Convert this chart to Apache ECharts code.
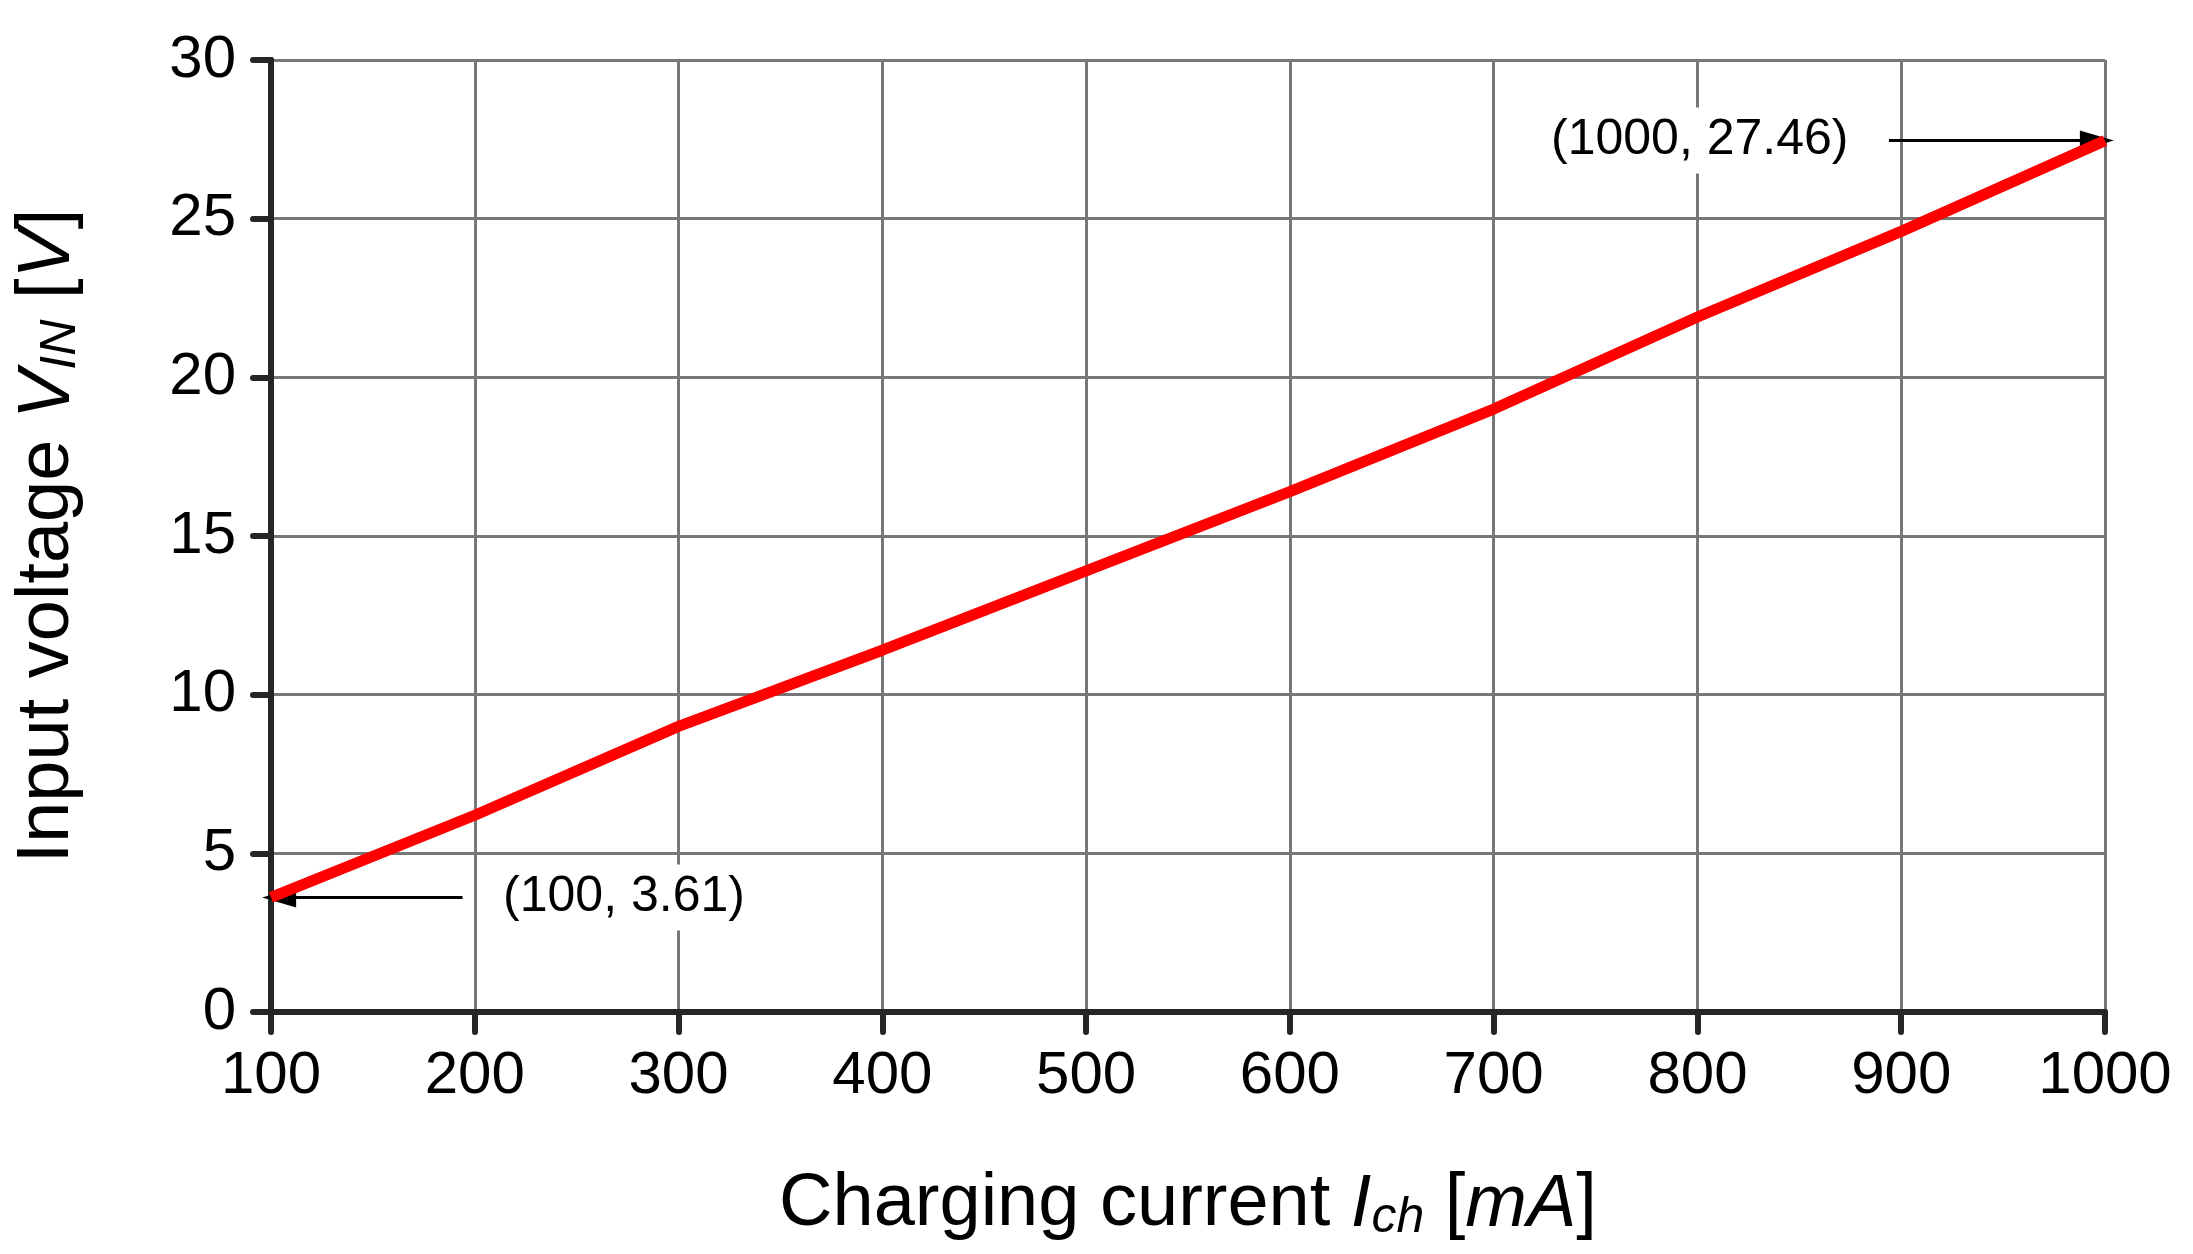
<!DOCTYPE html>
<html>
<head>
<meta charset="utf-8">
<script src="https://cdn.jsdelivr.net/npm/echarts@6/dist/echarts.min.js"></script>
<style>html,body{margin:0;background:#fff}#chart{width:2193px;height:1254px}</style>
</head>
<body>
<div id="chart"></div>
<script>
const currents = [100, 200, 300, 400, 500, 600, 700, 800, 900, 1000];
const voltages = [3.61, 6.2, 9.0, 11.4, 13.9, 16.4, 19.0, 21.9, 24.6, 27.46];

const chart = echarts.init(document.getElementById("chart"));
const font = "Liberation Sans, Arial, sans-serif";
const rich = {
  n: { fontSize: 74, fontFamily: font, color: "#000" },
  i: { fontSize: 74, fontFamily: font, fontStyle: "italic", color: "#000" },
  s: { fontSize: 50, fontFamily: font, fontStyle: "italic", color: "#000", verticalAlign: "bottom", padding: [26, 0, 0, 0] }
};

chart.setOption({
  animation: false,
  grid: { left: 271, right: 88, top: 60, bottom: 242 },
  xAxis: {
    type: "value", min: 100, max: 1000, interval: 100,
    name: "{n|Charging current }{i|I}{s|ch}{n| [}{i|mA}{n|]}",
    nameLocation: "middle", nameGap: 155,
    nameTextStyle: { rich },
    axisLine: { lineStyle: { color: "#262626", width: 6 } },
    axisTick: { show: true, length: 20, lineStyle: { color: "#262626", width: 6, cap: "round" } },
    axisLabel: { fontSize: 60, fontFamily: font, color: "#000", margin: 34, formatter: v => String(v) },
    splitLine: { show: true, lineStyle: { color: "#777", width: 3 } }
  },
  yAxis: {
    type: "value", min: 0, max: 30, interval: 5,
    name: "{n|Input voltage }{i|V}{s|IN}{n| [}{i|V}{n|]}",
    nameLocation: "middle", nameGap: 185,
    nameTextStyle: { rich },
    axisLine: { show: true, lineStyle: { color: "#262626", width: 6 } },
    axisTick: { show: true, length: 18, lineStyle: { color: "#262626", width: 6, cap: "round" } },
    axisLabel: { fontSize: 60, fontFamily: font, color: "#000", margin: 35 },
    splitLine: { show: true, lineStyle: { color: "#777", width: 3 } }
  },
  series: [{
    type: "line",
    data: currents.map((c, k) => [c, voltages[k]]),
    symbol: "none",
    lineStyle: { color: "#ff0000", width: 11 },
    z: 5,
    markLine: {
      silent: true, symbol: ["none", "triangle"], symbolSize: [20, 34],
      lineStyle: { color: "#000", width: 3, type: "solid" },
      label: { show: false },
      data: [
        [{ coord: [894, 27.46] }, { coord: [996, 27.46] }],
        [{ coord: [194, 3.61] }, { coord: [104, 3.61] }]
      ]
    }
  }]
});

// annotation labels, placed from data coords
const annStyle = { fontSize: 50, fontFamily: font, fill: "#000", backgroundColor: "#fff", padding: [8, 12] };
const pTop = chart.convertToPixel({ gridIndex: 0 }, [880, 27.46]);
const pBot = chart.convertToPixel({ gridIndex: 0 }, [208, 3.61]);
chart.setOption({
  graphic: [
    { type: "text", x: pTop[0], y: pTop[1], z: 10,
      style: { text: "(1000, 27.46)", align: "right", verticalAlign: "middle", ...annStyle } },
    { type: "text", x: pBot[0], y: pBot[1], z: 10,
      style: { text: "(100, 3.61)", align: "left", verticalAlign: "middle", ...annStyle } }
  ]
});
</script>
</body>
</html>
